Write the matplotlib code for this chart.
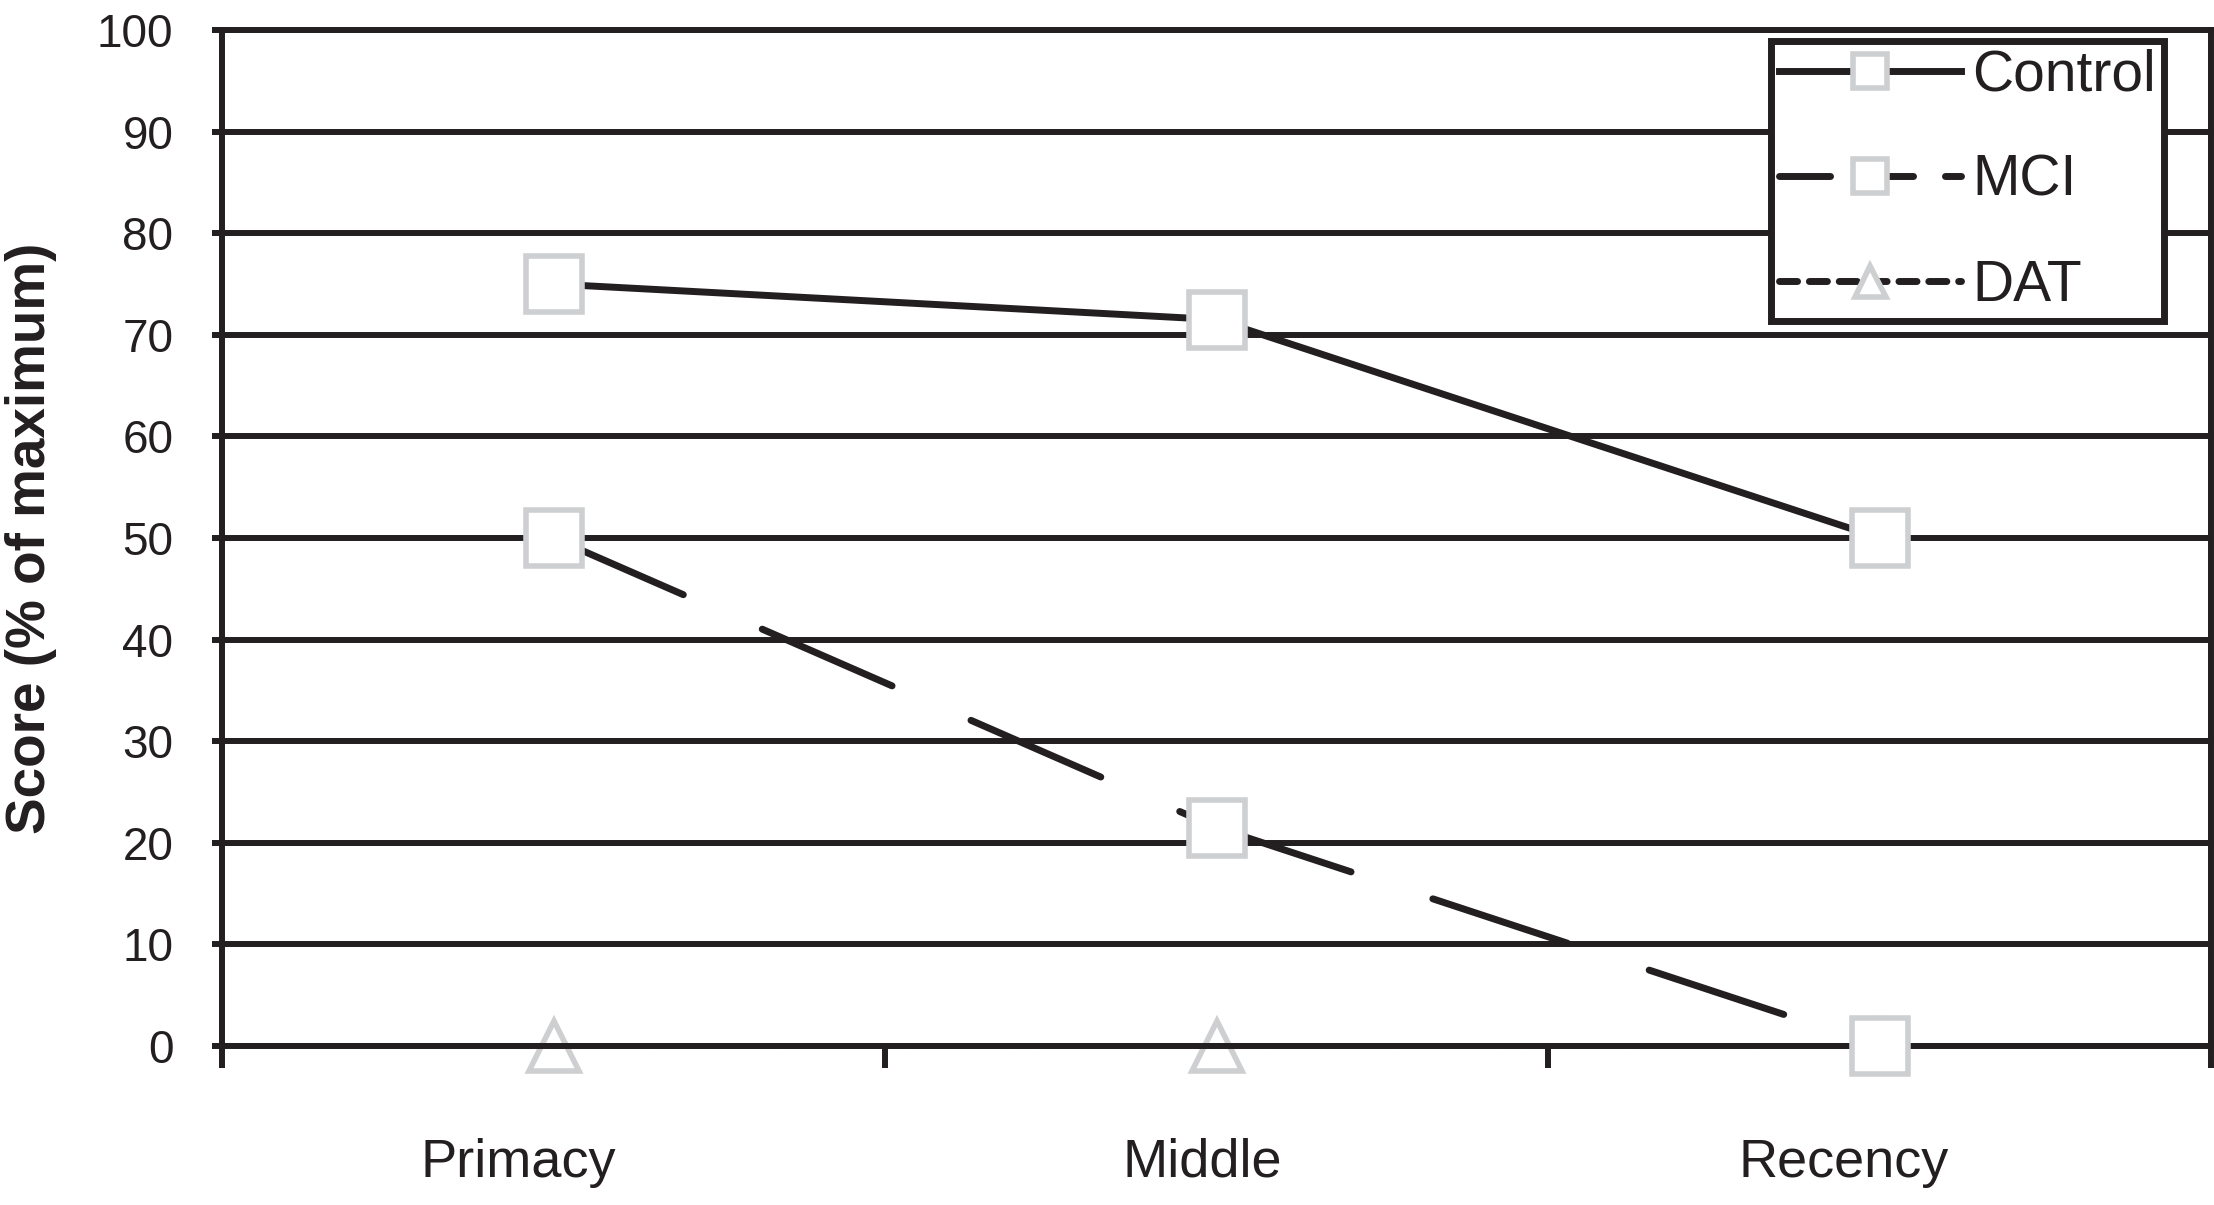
import matplotlib
matplotlib.use("Agg")
import matplotlib.pyplot as plt
from matplotlib.lines import Line2D
from matplotlib.transforms import ScaledTranslation

# ---- data ----
categories = ["Primacy", "Middle", "Recency"]
control = [75, 71.5, 50]
mci = [50, 21.5, 0]
dat = [0, 0, 0]
y_ticks = [0, 10, 20, 30, 40, 50, 60, 70, 80, 90, 100]
series_labels = ["Control", "MCI", "DAT"]

plt.rcParams["font.family"] = ["Liberation Sans", "DejaVu Sans"]

INK = "#231f20"
MARK = "#cdcfd1"
W, H, DPI = 2214, 1205, 100

fig = plt.figure(figsize=(W / DPI, H / DPI), dpi=DPI)
ax = fig.add_axes([222 / W, 1 - 1046 / H, (2211 - 222) / W, (1046 - 30) / H])

x = list(range(len(categories)))

sq = dict(marker="s", ms=40, mew=4, mec=MARK, mfc="white")

# Control: solid line with square markers
l_ctrl, = ax.plot(x, control, color=INK, lw=5, clip_on=False, zorder=3,
                  solid_capstyle="round", **sq)

# MCI: dash pattern restarts at each point (segment by segment)
for i in range(len(x) - 1):
    ax.plot(x[i:i + 2], mci[i:i + 2], color=INK, lw=5, clip_on=False,
            zorder=3, dashes=(20.4, 12.4), dash_capstyle="round")
ax.plot(x, mci, ls="none", clip_on=False, zorder=3.1, **sq)

# DAT: short dashes with triangle markers (along the 0 line)
l_dat, = ax.plot(x, dat, color=INK, lw=4.3, marker="^", ms=36, mew=4,
                 mec=MARK, mfc="none", clip_on=False, zorder=2,
                 dashes=(2.6, 1.7), dash_capstyle="round")

ax.set_xlim(-0.5, 2.5)
ax.set_ylim(0, 100)

# y axis
ax.set_yticks(y_ticks)
ax.set_yticklabels([str(v) for v in y_ticks])
ax.tick_params(axis="y", direction="out", length=7, width=4.3, color=INK,
               labelsize=33, pad=28, labelcolor=INK)
ax.grid(axis="y", color=INK, lw=4.3)

# x axis: labels at categories, tick marks at category boundaries
ax.set_xticks(x)
ax.set_xticklabels(categories)
ax.set_xticks([-0.5, 0.5, 1.5, 2.5], minor=True)
ax.tick_params(axis="x", which="major", length=0, labelsize=39, pad=66,
               labelcolor=INK)
ax.tick_params(axis="x", which="minor", direction="out", length=16,
               width=4.3, color=INK)
offsets_px = [-35, -14, -36]
for lab, dx in zip(ax.get_xticklabels(), offsets_px):
    lab.set_transform(lab.get_transform() +
                      ScaledTranslation(dx / DPI, 0, fig.dpi_scale_trans))

for s in ax.spines.values():
    s.set_color(INK)
    s.set_linewidth(4.3)

ax.set_ylabel("Score (% of maximum)", fontsize=39.5, fontweight="bold",
              color=INK)
ax.yaxis.label.set_va("center")
ax.yaxis.set_label_coords((31 - 222) / (2211 - 222), 0.5)

# legend
h_ctrl = Line2D([], [], color=INK, lw=5, **sq)
h_mci = Line2D([], [], color=INK, lw=5, dashes=(7.35, 4.6),
               dash_capstyle="round", **sq)
h_dat = Line2D([], [], color=INK, lw=5, marker="^", ms=36, mew=4, mec=MARK,
               mfc="white", dashes=(2.6, 1.7), dash_capstyle="round")
leg = ax.legend([h_ctrl, h_mci, h_dat], series_labels,
                loc="upper right",
                bbox_to_anchor=(2164 / W, 1 - 40.5 / H),
                bbox_transform=fig.transFigure, borderaxespad=0,
                fontsize=41, handlelength=3.2, handletextpad=0.2,
                borderpad=0.14, labelspacing=0.9, markerscale=0.62,
                fancybox=False, framealpha=1, edgecolor=INK, numpoints=1)
leg.get_frame().set_linewidth(5)
for t in leg.get_texts():
    t.set_color(INK)

fig.savefig("out.png", dpi=DPI, facecolor="white")
